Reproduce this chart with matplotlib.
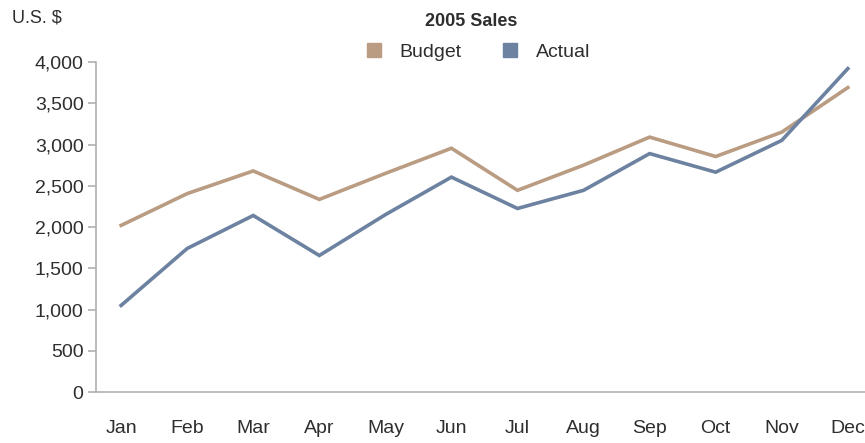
import matplotlib
matplotlib.use("Agg")
import matplotlib.pyplot as plt
from matplotlib.lines import Line2D
from matplotlib.ticker import FuncFormatter

# values
months = ["Jan", "Feb", "Mar", "Apr", "May", "Jun",
          "Jul", "Aug", "Sep", "Oct", "Nov", "Dec"]
budget = [2020, 2405, 2680, 2335, 2650, 2955, 2445, 2750, 3090, 2855, 3150, 3690]
actual = [1050, 1740, 2140, 1655, 2150, 2605, 2225, 2445, 2890, 2665, 3050, 3920]
yticks = [0, 500, 1000, 1500, 2000, 2500, 3000, 3500, 4000]

c_budget = "#b99c82"
c_actual = "#6c82a0"
c_text = "#2e2e2e"

plt.rcParams["font.family"] = ["Liberation Sans", "DejaVu Sans"]

fig = plt.figure(figsize=(8.65, 4.43), dpi=100)
ax = fig.add_axes([0.111, 0.115, 0.889, 0.745])

x = list(range(len(months)))
ax.plot(x, budget, color=c_budget, lw=2.6, solid_joinstyle="miter")
ax.plot(x, actual, color=c_actual, lw=2.6, solid_joinstyle="miter")

ax.set_xlim(-0.38, 11.26)
ax.set_ylim(0, 4000)
ax.set_yticks(yticks)
ax.yaxis.set_major_formatter(FuncFormatter(lambda v, p: "{:,.0f}".format(v)))
ax.set_xticks(x)
ax.set_xticklabels(months)

for s in ["top", "right"]:
    ax.spines[s].set_visible(False)
for s in ["left", "bottom"]:
    ax.spines[s].set_color("#b0b0b0")
    ax.spines[s].set_linewidth(1.2)
ax.tick_params(axis="y", length=6, width=1.2, color="#b0b0b0",
               labelsize=14, labelcolor=c_text, pad=3)
ax.tick_params(axis="x", length=0, labelsize=14, labelcolor=c_text, pad=20)

fig.text(0.014, 0.96, "U.S. $", fontsize=13, color=c_text, va="center")
fig.text(0.545, 0.952, "2005 Sales", fontsize=13, fontweight="bold",
         color=c_text, ha="center", va="center")

handles = [Line2D([], [], marker="s", ls="none", color=c_budget, markersize=10),
           Line2D([], [], marker="s", ls="none", color=c_actual, markersize=10)]
fig.legend(handles, ["Budget", "Actual"], loc="center", ncol=2,
           bbox_to_anchor=(0.546, 0.882), frameon=False, fontsize=14,
           handletextpad=0.3, columnspacing=1.5, labelcolor=c_text)

fig.savefig("out.png", dpi=100)
